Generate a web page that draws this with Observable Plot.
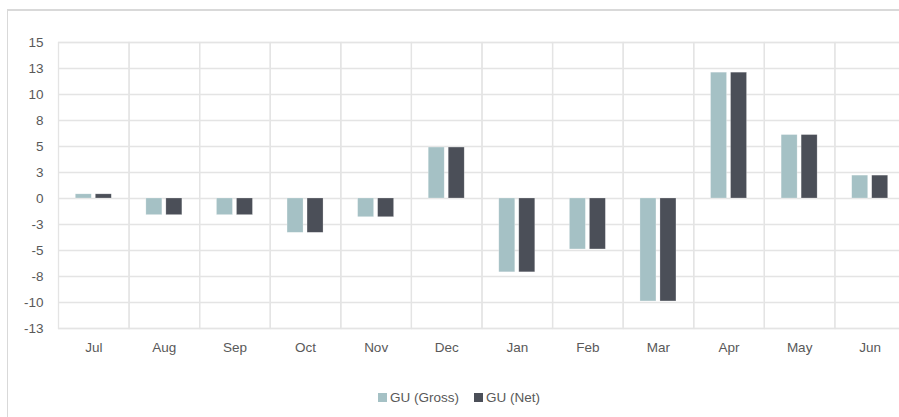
<!DOCTYPE html>
<html>
<head>
<meta charset="utf-8">
<script src="https://cdn.jsdelivr.net/npm/d3@7"></script>
<script src="https://cdn.jsdelivr.net/npm/@observablehq/plot@0.6"></script>
<style>
  html, body { margin: 0; padding: 0; background: #fff; width: 899px; height: 417px; overflow: hidden; }
  body { position: relative; font-family: "Liberation Sans", Arial, sans-serif; }
  #frame { position: absolute; left: 7px; top: 9px; width: 1000px; height: 600px;
           border-top: 2px solid #d9d9d9; border-left: 1px solid #d9d9d9; }
  #chart { position: absolute; left: 0; top: 0; }
  #legend { position: absolute; left: 378px; top: 390px; display: flex; align-items: center;
            font-size: 13.5px; color: #595959; white-space: nowrap; }
  .sw { width: 9px; height: 9px; display: inline-block; margin-right: 3px; }
  .item { display: flex; align-items: center; margin-right: 15px; }
</style>
</head>
<body>
<div id="frame"></div>
<div id="chart"></div>
<div id="legend"></div>
<script>
const months = ["Jul","Aug","Sep","Oct","Nov","Dec","Jan","Feb","Mar","Apr","May","Jun"];
const series = ["GU (Gross)", "GU (Net)"];
const grossValues = [0.4, -1.6, -1.6, -3.3, -1.8, 4.9, -7.1, -4.9, -9.9, 12.1, 6.1, 2.2];
const netValues   = [0.4, -1.6, -1.6, -3.3, -1.8, 4.9, -7.1, -4.9, -9.9, 12.1, 6.1, 2.2];
const yTicks = [15, 12.5, 10, 7.5, 5, 2.5, 0, -2.5, -5, -7.5, -10, -12.5];
const yTickLabels = ["15","13","10","8","5","3","0","-3","-5","-8","-10","-13"];
const colors = ["#a5c1c5", "#4b4f58"];

const data = [];
months.forEach((m, i) => {
  data.push({month: m, series: series[0], value: grossValues[i]});
  data.push({month: m, series: series[1], value: netValues[i]});
});

const chart = Plot.plot({
  width: 899,
  height: 360,
  marginLeft: 58,
  marginRight: -6,
  marginTop: 42,
  marginBottom: 32,
  style: {fontFamily: "'Liberation Sans', Arial, sans-serif", fontSize: "13.5px", color: "#595959", background: "transparent", overflow: "visible"},
  fx: {domain: months, padding: 0, round: false, label: null, axis: "bottom", tickSize: 0, tickPadding: 14},
  x: {domain: series, axis: null, round: false, paddingInner: 0.2, paddingOuter: 0.865},
  y: {domain: [-12.5, 15], ticks: yTicks, tickSize: 0, tickPadding: 15, label: null,
      tickFormat: d => yTickLabels[yTicks.indexOf(d)]},
  color: {domain: series, range: colors},
  marks: [
    Plot.gridY(yTicks, {stroke: "#e4e4e4", strokeOpacity: 1, strokeWidth: 1.3}),
    Plot.frame({stroke: "#e4e4e4", strokeWidth: 1.3}),
    Plot.barY(data, {fx: "month", x: "series", y: "value", fill: "series", stroke: "#ffffff", strokeOpacity: 0.4, strokeWidth: 0.6})
  ]
});
document.getElementById("chart").appendChild(chart);

const legend = document.getElementById("legend");
series.forEach((s, i) => {
  const item = document.createElement("span");
  item.className = "item";
  const sw = document.createElement("span");
  sw.className = "sw";
  sw.style.background = colors[i];
  item.appendChild(sw);
  item.appendChild(document.createTextNode(s));
  legend.appendChild(item);
});
</script>
</body>
</html>
